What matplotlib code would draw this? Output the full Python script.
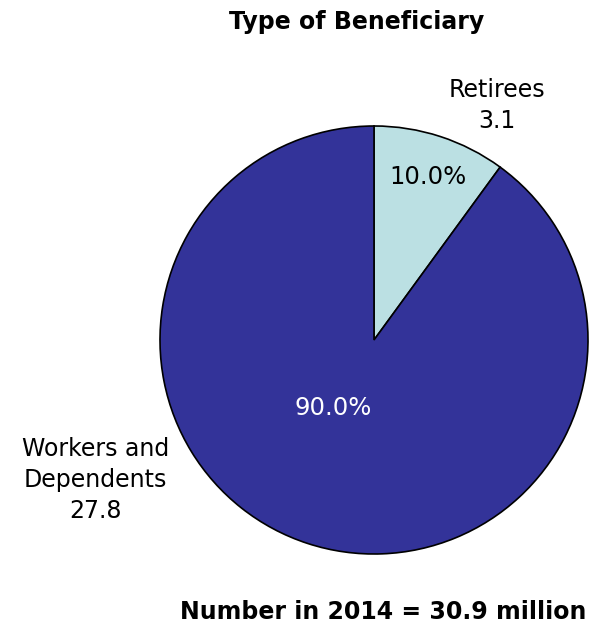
import matplotlib.pyplot as plt

labels = ["Retirees\n3.1", "Workers and\nDependents\n27.8"]
values = [3.1, 27.8]
colors = ["#BBE0E3", "#333399"]
pct_colors = ["black", "white"]

plt.rcParams["font.family"] = ["DejaVu Sans"]

fig = plt.figure(figsize=(5.92, 6.31), dpi=100)
W, H = 592, 631
cx, cy, r = 374, 340, 214
ax = fig.add_axes([(cx - r) / W, (H - cy - r) / H, 2 * r / W, 2 * r / H])

wedges, texts, autotexts = ax.pie(
    values, labels=labels, colors=colors, startangle=90, counterclock=False,
    autopct="%.1f%%", radius=1,
    wedgeprops=dict(edgecolor="black", linewidth=1.2),
    textprops=dict(fontsize=17.5),
)
ax.set_xlim(-1, 1)
ax.set_ylim(-1, 1)
ax.set_aspect("equal")
ax.axis("off")

# label positions
autotexts[0].set_position((0.25, 0.76))
autotexts[1].set_position((-0.19, -0.32))
for t, c in zip(autotexts, pct_colors):
    t.set_color(c)
    t.set_ha("center")
    t.set_va("center")

texts[0].set_position((0.575, 1.095))
texts[1].set_position((-1.30, -0.654))
for t in texts:
    t.set_ha("center")
    t.set_va("center")
    t.set_multialignment("center")
    t.set_linespacing(1.38)
    t.set_fontsize(17)

fig.text(357 / W, 1 - 22 / H, "Type of Beneficiary", ha="center", va="center",
         fontsize=17, fontweight="bold")
fig.text(383 / W, 1 - 612 / H, "Number in 2014 = 30.9 million", ha="center",
         va="center", fontsize=17, fontweight="bold")

fig.savefig("out.png", dpi=100)
